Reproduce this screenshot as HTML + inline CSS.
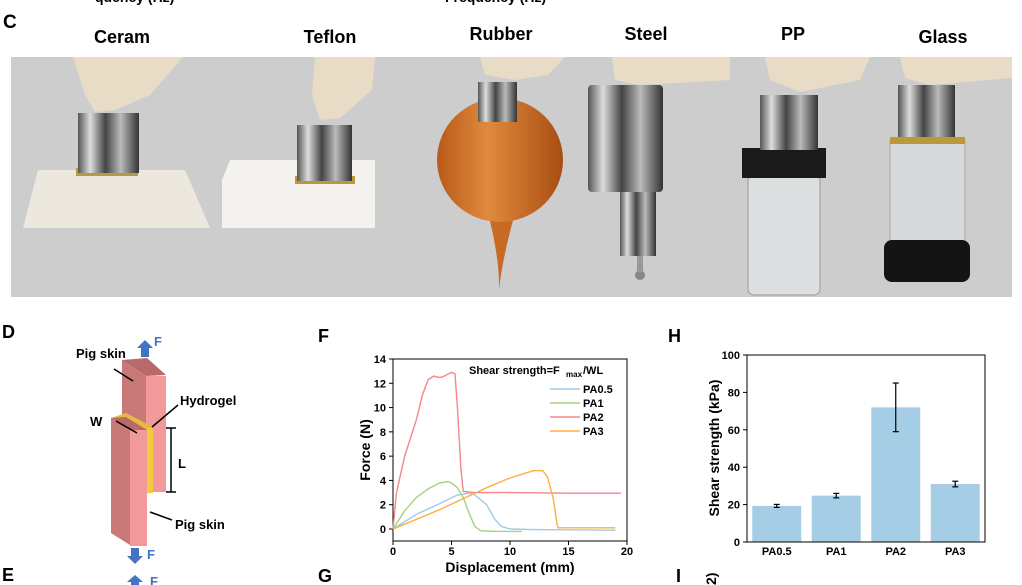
<!DOCTYPE html>
<html><head><meta charset="utf-8">
<style>
body{margin:0;width:1022px;height:585px;overflow:hidden;background:#fff;font-family:"Liberation Sans",Arial,sans-serif;}
svg{position:absolute;left:0;top:0}
text{font-family:"Liberation Sans",Arial,sans-serif;font-weight:bold}
</style></head><body>
<svg width="1022" height="585">
<defs>
<linearGradient id="metal" x1="0" x2="1"><stop offset="0" stop-color="#555"/><stop offset="0.2" stop-color="#ddd"/><stop offset="0.45" stop-color="#444"/><stop offset="0.7" stop-color="#bbb"/><stop offset="1" stop-color="#333"/></linearGradient>
<linearGradient id="bulb" x1="0" x2="1"><stop offset="0" stop-color="#b85a1a"/><stop offset="0.4" stop-color="#e08a3e"/><stop offset="1" stop-color="#a84d12"/></linearGradient>
</defs>
<text x="95" y="2" font-size="14">quency (Hz)</text>
<text x="445" y="2" font-size="14">Frequency (Hz)</text>
<!-- Panel C -->
<g>
<text x="3" y="28" font-size="19">C</text>
<text x="122" y="43" font-size="18" text-anchor="middle">Ceram</text>
<text x="330" y="43" font-size="18" text-anchor="middle">Teflon</text>
<text x="501" y="40" font-size="18" text-anchor="middle">Rubber</text>
<text x="646" y="40" font-size="18" text-anchor="middle">Steel</text>
<text x="793" y="40" font-size="18" text-anchor="middle">PP</text>
<text x="943" y="43" font-size="18" text-anchor="middle">Glass</text>
<rect x="11" y="57" width="1001" height="240" fill="#cdcdcd"/>
<!-- ceram -->
<polygon points="38,170 185,170 210,228 23,228" fill="#ece8de"/>
<rect x="76" y="168" width="62" height="8" fill="#b89a3a"/>
<rect x="78" y="113" width="61" height="60" fill="url(#metal)"/>
<path d="M73,57 L183,57 L150,95 L115,110 L95,112 L85,95 Z" fill="#e8dcc6"/>
<!-- teflon -->
<polygon points="230,160 375,160 375,228 222,228 222,180" fill="#f4f2ee"/>
<rect x="295" y="176" width="60" height="8" fill="#b89a3a"/>
<rect x="297" y="125" width="55" height="56" fill="url(#metal)"/>
<path d="M315,57 L375,57 L372,90 L340,118 L320,120 L312,95 Z" fill="#e8dcc6"/>
<!-- rubber -->
<path d="M488,213 Q500,260 499,290 Q502,260 515,213 Z" fill="#c66a24"/>
<ellipse cx="500" cy="160" rx="63" ry="62" fill="url(#bulb)"/>
<rect x="478" y="82" width="39" height="40" fill="url(#metal)"/>
<path d="M480,57 L565,57 L548,75 L515,80 L485,75 Z" fill="#e8dcc6"/>
<!-- steel -->
<rect x="588" y="85" width="75" height="107" rx="4" fill="url(#metal)"/>
<rect x="620" y="192" width="36" height="64" fill="url(#metal)"/>
<circle cx="640" cy="275" r="5" fill="#888"/>
<rect x="637" y="256" width="6" height="16" fill="#999"/>
<path d="M612,57 L730,57 L730,80 L640,85 L615,80 Z" fill="#e8dcc6"/>
<!-- PP -->
<rect x="748" y="175" width="72" height="120" rx="6" fill="#dcdfe0" stroke="#999"/>
<rect x="742" y="148" width="84" height="30" fill="#1a1a1a"/>
<rect x="760" y="95" width="58" height="55" fill="url(#metal)"/>
<path d="M765,57 L870,57 L860,80 L800,92 L770,80 Z" fill="#e8dcc6"/>
<!-- glass -->
<rect x="890" y="140" width="75" height="105" fill="#d6d9da" stroke="#aaa"/>
<rect x="890" y="137" width="75" height="7" fill="#b89a3a"/>
<rect x="884" y="240" width="86" height="42" rx="8" fill="#141414"/>
<rect x="898" y="85" width="57" height="52" fill="url(#metal)"/>
<path d="M900,57 L1012,57 L1012,78 L930,85 L905,78 Z" fill="#e8dcc6"/>
</g>
<!-- Panel D -->
<g>
<text x="2" y="338" font-size="18">D</text>
<polygon points="122,360 147,358 166,375 146,376" fill="#b86a6a"/>
<polygon points="122,360 146,376 146,430 122,418" fill="#c97878"/>
<rect x="146" y="376" width="20" height="116" fill="#f29a9a"/>
<polygon points="126,413 153,427 147,430 111,418" fill="#e8b840"/>
<polygon points="111,418 130,430 130,545 111,533" fill="#c97878"/>
<polygon points="111,418 126,417 147,430 130,430" fill="#b86a6a"/>
<rect x="130" y="430" width="17" height="116" fill="#f29a9a"/>
<rect x="147" y="428" width="6" height="65" fill="#f5c842"/>
<polygon points="141,357 149,357 149,348 153,348 145,340 137,348 141,348" fill="#4472c4"/>
<text x="154" y="346" font-size="13" fill="#4472c4">F</text>
<polygon points="131,548 139,548 139,556 143,556 135,564 127,556 131,556" fill="#4472c4"/>
<text x="147" y="559" font-size="13" fill="#4472c4">F</text>
<polygon points="131,585 139,585 139,582 143,582 135,575 127,582 131,582" fill="#4472c4"/>
<text x="150" y="586" font-size="13" fill="#4472c4">F</text>
<text x="76" y="358" font-size="13">Pig skin</text>
<line x1="114" y1="369" x2="133" y2="381" stroke="#000" stroke-width="1.5"/>
<text x="180" y="405" font-size="13">Hydrogel</text>
<line x1="178" y1="405" x2="152" y2="427" stroke="#000" stroke-width="1.5"/>
<text x="90" y="426" font-size="13">W</text>
<line x1="116" y1="421" x2="137" y2="433" stroke="#000" stroke-width="1.5"/>
<line x1="171" y1="428" x2="171" y2="492" stroke="#000" stroke-width="1.5"/>
<line x1="166" y1="428" x2="176" y2="428" stroke="#000" stroke-width="1.5"/>
<line x1="166" y1="492" x2="176" y2="492" stroke="#000" stroke-width="1.5"/>
<text x="178" y="468" font-size="13">L</text>
<text x="175" y="529" font-size="13">Pig skin</text>
<line x1="172" y1="520" x2="150" y2="512" stroke="#000" stroke-width="1.5"/>
<text x="2" y="581" font-size="18">E</text>
</g>
<text x="318" y="342" font-size="18">F</text>
<text x="668" y="342" font-size="18">H</text>
<text x="318" y="582" font-size="18">G</text>
<text x="676" y="582" font-size="18">I</text>
<text transform="translate(716,585) rotate(-90)" font-size="14">2)</text>
<g id="chartF"></g>
<g id="chartH"></g>
</svg>
<script>
const NS="http://www.w3.org/2000/svg";
function mk(tag,attrs,parent,txt){const e=document.createElementNS(NS,tag);for(const k in attrs)e.setAttribute(k,attrs[k]);if(txt!==undefined)e.textContent=txt;parent.appendChild(e);return e;}
// Chart F data
const fSeriesNames=["PA0.5","PA1","PA2","PA3"];
const fColors=["#9fcbe8","#a6d27a","#f4868c","#fbb040"];
const pa05X=[0,2,4,5.5,6.5,7,8,8.7,9.3,10,12,19];
const pa05Y=[0,1.2,2.1,2.8,2.95,2.8,2,0.8,0.2,0,-0.05,-0.1];
const pa1X=[0,1,2,3,4,4.7,5,5.5,6,6.5,7,7.5,9,11];
const pa1Y=[0,1.5,2.6,3.3,3.8,3.9,3.8,3.4,2.6,1.3,0.2,-0.15,-0.2,-0.2];
const pa2X=[0,0.3,1,2,2.5,3,3.5,3.8,4.2,4.6,5,5.3,5.5,5.8,6,7,10,15,19.5];
const pa2Y=[0,3,6,9,11,12.3,12.6,12.5,12.5,12.7,12.9,12.8,10,5,3.1,3,3,2.95,2.95];
const pa3X=[0,2,4,6,8,10,12,12.8,13.2,13.7,14,14.1,19];
const pa3Y=[0,0.8,1.6,2.5,3.4,4.2,4.8,4.8,4.3,2.5,0.5,0.1,0.1];
const fXTicks=[0,5,10,15,20];
const fYTicks=[0,2,4,6,8,10,12,14];
const fx=v=>393+v*(627-393)/20;
const fy=v=>529-v*(529-359)/14;
const gF=document.getElementById("chartF");
let r=mk("rect",{x:393,y:359,width:234,height:182,fill:"none",stroke:"#000","stroke-width":1},gF);


fYTicks.forEach(t=>{mk("line",{x1:393,x2:389,y1:fy(t),y2:fy(t),stroke:"#000"},gF);
 const l=mk("text",{x:386,y:fy(t)+4,"font-size":11,"text-anchor":"end"},gF,t);
 
 });
fXTicks.forEach(t=>{mk("line",{x1:fx(t),x2:fx(t),y1:541,y2:545,stroke:"#000"},gF);
 const l=mk("text",{x:fx(t),y:555,"font-size":11,"text-anchor":"middle"},gF,t);
 
 });
let t1=mk("text",{x:510,y:572,"font-size":14,"text-anchor":"middle"},gF,"Displacement (mm)");


let t2=mk("text",{transform:"translate(370,450) rotate(-90)","font-size":14,"text-anchor":"middle"},gF,"Force (N)");


const fXs=[pa05X,pa1X,pa2X,pa3X],fYs=[pa05Y,pa1Y,pa2Y,pa3Y];
fXs.forEach((xs,i)=>{const d=xs.map((x,j)=>(j?"L":"M")+fx(x).toFixed(1)+","+fy(fYs[i][j]).toFixed(1)).join(" ");
 const p=mk("path",{d:d,fill:"none",stroke:fColors[i],"stroke-width":1.4,"stroke-linejoin":"round"},gF);
 
 
 const ly=389+i*14;
 mk("line",{x1:550,x2:580,y1:ly,y2:ly,stroke:fColors[i],"stroke-width":1.4},gF);
 const lt=mk("text",{x:583,y:ly+4,"font-size":11},gF,fSeriesNames[i]);
 
 });
let ann=mk("text",{x:469,y:374,"font-size":11},gF,"Shear strength=F");


mk("text",{x:566,y:377,"font-size":8},gF,"max");
mk("text",{x:583,y:374,"font-size":11},gF,"/WL");
// Chart H data
const hCategories=["PA0.5","PA1","PA2","PA3"];
const hValues=[19.3,24.8,72,31];
const hErrors=[0.8,1.2,13,1.5];
const hYTicks=[0,20,40,60,80,100];
const hy=v=>542-v*(542-355)/100;
const hx0=747,hw=238,slot=hw/4,barW=49;
const gH=document.getElementById("chartH");
hValues.forEach((v,i)=>{const cx=hx0+slot*(i+0.5);
 const b=mk("rect",{x:cx-barW/2,y:hy(v),width:barW,height:542-hy(v),fill:"#a5cde6"},gH);
 
 
 const e=hErrors[i];
 mk("line",{x1:cx,x2:cx,y1:hy(v+e),y2:hy(v-e),stroke:"#000","stroke-width":1.2},gH);
 mk("line",{x1:cx-3,x2:cx+3,y1:hy(v+e),y2:hy(v+e),stroke:"#000","stroke-width":1.2},gH);
 mk("line",{x1:cx-3,x2:cx+3,y1:hy(v-e),y2:hy(v-e),stroke:"#000","stroke-width":1.2},gH);
 const l=mk("text",{x:cx,y:555,"font-size":11,"text-anchor":"middle"},gH,hCategories[i]);
 
 });
let rh=mk("rect",{x:747,y:355,width:238,height:187,fill:"none",stroke:"#000","stroke-width":1},gH);


hYTicks.forEach(t=>{mk("line",{x1:747,x2:743,y1:hy(t),y2:hy(t),stroke:"#000"},gH);
 const l=mk("text",{x:740,y:hy(t)+4,"font-size":11,"text-anchor":"end"},gH,t);
 
 });
let th=mk("text",{transform:"translate(719,448) rotate(-90)","font-size":14,"text-anchor":"middle"},gH,"Shear strength (kPa)");


</script>
</body></html>
